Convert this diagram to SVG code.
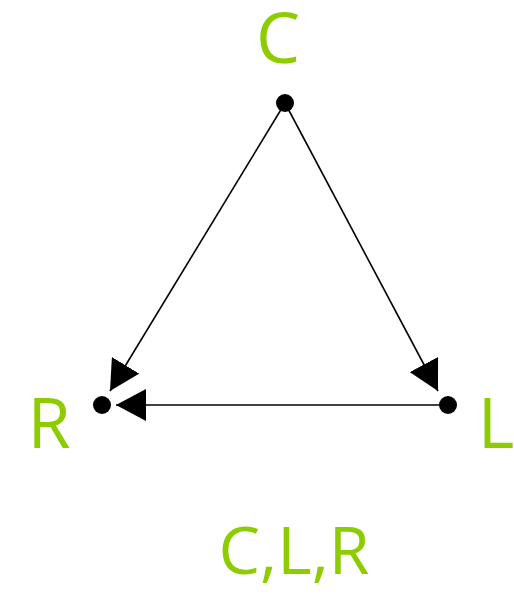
<svg xmlns="http://www.w3.org/2000/svg" width="514" height="597" viewBox="0 0 514 597">
<style>
.lbl{font-family:"Open Sans","DejaVu Sans",sans-serif;fill:#8ccc00;font-size:70px;text-anchor:middle}
.edge{stroke:#000;stroke-width:1.6;fill:none;marker-end:url(#ah)}
.dot{fill:#000}
</style>
<defs>
<marker id="ah" markerUnits="userSpaceOnUse" viewBox="0 0 30 32" refX="30" refY="16" markerWidth="30" markerHeight="32" orient="auto">
<path d="M0,0 L30,16 L0,32 z" fill="#000"/>
</marker>
</defs>
<rect width="514" height="597" fill="#fff"/>
<g id="edges">
<line class="edge" x1="285" y1="103" x2="110" y2="391"/>
<line class="edge" x1="285" y1="103" x2="438" y2="391"/>
<line class="edge" x1="448" y1="405" x2="116" y2="405"/>
</g>
<g id="node-C"><circle class="dot" cx="285" cy="103" r="9"/><text class="lbl" x="278" y="63">C</text></g>
<g id="node-R"><circle class="dot" cx="102" cy="405" r="9"/><text class="lbl" x="49" y="448">R</text></g>
<g id="node-L"><circle class="dot" cx="448" cy="405" r="9"/><text class="lbl" x="496" y="448">L</text></g>
<g id="caption"><text class="lbl" x="294" y="574" style="font-size:66px">C,L,R</text></g>
</svg>
